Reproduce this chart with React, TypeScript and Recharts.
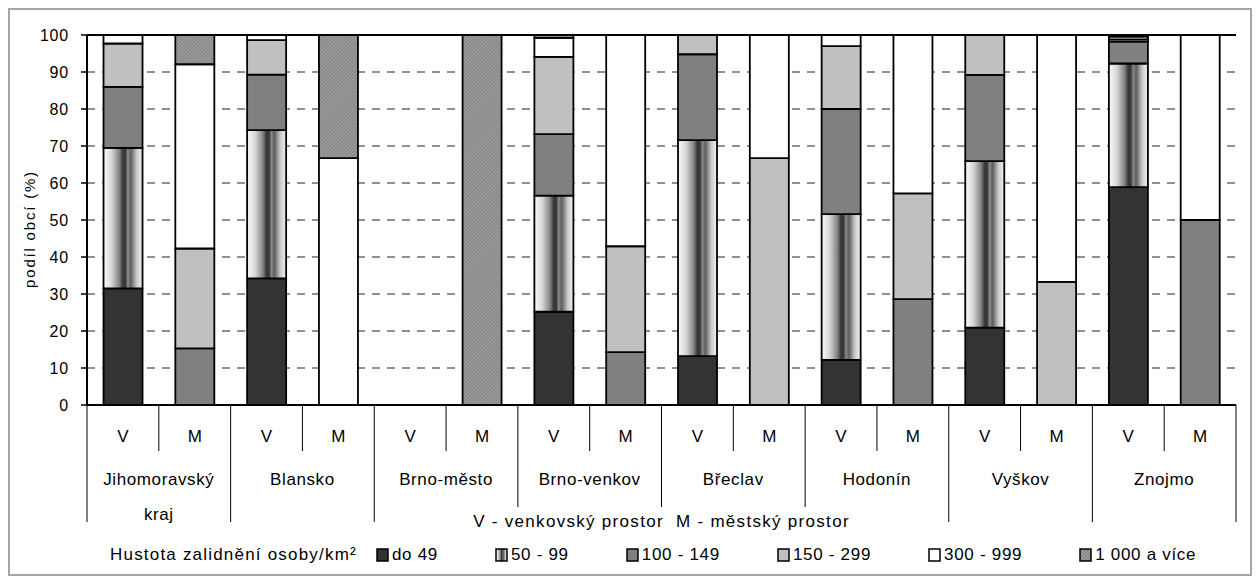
import { BarChart, Bar, XAxis, YAxis, CartesianGrid, ReferenceLine, Label } from 'recharts'

// okresy, each with rural (V) and urban (M) column
const groups = ['Jihomoravský kraj', 'Blansko', 'Brno-město', 'Brno-venkov', 'Břeclav', 'Hodonín', 'Vyškov', 'Znojmo']
const spaces = ['V', 'M']

// share of municipalities (%) by population density class, order: JMK V, JMK M, Blansko V, ...
const do49 = [31.5, 0, 34.2, 0, 0, 0, 25.2, 0, 13.2, 0, 12.2, 0, 20.9, 0, 58.9, 0]
const d50to99 = [38.0, 0, 40.1, 0, 0, 0, 31.4, 0, 58.4, 0, 39.4, 0, 45.0, 0, 33.4, 0]
const d100to149 = [16.5, 15.3, 15.0, 0, 0, 0, 16.6, 14.3, 23.2, 0, 28.4, 28.6, 23.3, 0, 5.9, 50]
const d150to299 = [11.7, 27.0, 9.3, 0, 0, 0, 20.9, 28.6, 5.2, 66.7, 17.0, 28.6, 10.8, 33.3, 0.6, 0]
const d300to999 = [2.3, 49.8, 1.4, 66.7, 0, 0, 5.1, 57.1, 0, 33.3, 3.0, 42.8, 0, 66.7, 0.8, 50]
const d1000plus = [0, 7.9, 0, 33.3, 0, 100, 0.8, 0, 0, 0, 0, 0, 0, 0, 0.4, 0]

const yTicks = [0, 10, 20, 30, 40, 50, 60, 70, 80, 90, 100]

const legendTitle = 'Hustota zalidnění osoby/km²'
const axisTitle = 'V - venkovský prostor  M - městský prostor'

const series = [
  { key: 'd49', name: 'do 49', values: do49, fill: '#333333' },
  { key: 'd50', name: '50 - 99', values: d50to99, fill: 'url(#grad5099)' },
  { key: 'd100', name: '100 - 149', values: d100to149, fill: '#808080' },
  { key: 'd150', name: '150 - 299', values: d150to299, fill: '#c0c0c0' },
  { key: 'd300', name: '300 - 999', values: d300to999, fill: '#ffffff' },
  { key: 'd1000', name: '1 000 a více', values: d1000plus, fill: 'url(#hatch1000)' },
]

const data = groups.flatMap((g, gi) =>
  spaces.map((s, si) => {
    const i = gi * 2 + si
    const row: Record<string, any> = { id: g + ' ' + s, group: g, space: s }
    series.forEach((se) => { row[se.key] = se.values[i] })
    return row
  })
)

const FONT = 'Liberation Sans, Arial, sans-serif'
const W = 1240
const H = 564
const margin = { top: 25, right: 14, left: 37, bottom: 29 }
const Y_W = 40
const X_H = 140
const PLOT_W = W - margin.left - margin.right - Y_W
const BAND = PLOT_W / data.length
const PLOT_CX = margin.left + Y_W + PLOT_W / 2

function CategoryTick(props: any) {
  const { x, y, payload } = props
  const i = payload.index
  const row = data[i]
  const right = x + BAND / 2
  const isM = i % 2 === 1
  let sepLen = 46
  if (isM) sepLen = Math.abs(right - PLOT_CX) < 200 ? 102 : 117
  const lines = row.group.length > 14
    ? [row.group.slice(0, row.group.lastIndexOf(' ')), row.group.slice(row.group.lastIndexOf(' ') + 1)]
    : [row.group]
  return (
    <g fontFamily={FONT} fontSize={17} fill="#000">
      <text x={x} y={y + 37} textAnchor="middle">{row.space}</text>
      <line x1={right} x2={right} y1={y} y2={y + sepLen} stroke="#000" strokeWidth={1} />
      {i === 0 && <line x1={x - BAND / 2} x2={x - BAND / 2} y1={y} y2={y + 117} stroke="#000" strokeWidth={1} />}
      {!isM && lines.map((ln, li) => (
        <text key={li} x={right} y={y + 80 + li * 35} textAnchor="middle" letterSpacing={0.6}>{ln}</text>
      ))}
    </g>
  )
}

function Swatch({ fill }: { fill: string }) {
  return (
    <svg width={14} height={15} style={{ display: 'block', marginRight: 2 }}>
      <rect x={1} y={1} width={11} height={12} fill={fill} stroke="#000" strokeWidth={1.5} />
    </svg>
  )
}

export default function App() {
  return (
    <div style={{ position: 'relative', width: W, height: H, border: '2px solid #a6a6a6', background: '#fff', fontFamily: FONT }}>
      <BarChart width={W} height={H} data={data} margin={margin} barCategoryGap="23%">
        <defs>
          <linearGradient id="grad5099" x1="0" y1="0" x2="1" y2="0">
            <stop offset="0%" stopColor="#fafafa" />
            <stop offset="20%" stopColor="#d8d8d8" />
            <stop offset="40%" stopColor="#858585" />
            <stop offset="50%" stopColor="#353535" />
            <stop offset="57%" stopColor="#3c3c3c" />
            <stop offset="62%" stopColor="#8a8a8a" />
            <stop offset="70%" stopColor="#5e5e5e" />
            <stop offset="85%" stopColor="#c8c8c8" />
            <stop offset="100%" stopColor="#f5f5f5" />
          </linearGradient>
          <pattern id="hatch1000" width="2.5" height="2.5" patternUnits="userSpaceOnUse" patternTransform="rotate(45)">
            <rect width="2.5" height="2.5" fill="#9c9c9c" />
            <line x1="0" y1="0" x2="0" y2="2.5" stroke="#6c6c6c" strokeWidth="1.1" />
          </pattern>
        </defs>
        <CartesianGrid vertical={false} stroke="#222" strokeDasharray="8 7" />
        <XAxis
          dataKey="id"
          height={X_H}
          interval={0}
          tickSize={0}
          tickMargin={0}
          tickLine={false}
          axisLine={{ stroke: '#000', strokeWidth: 2 }}
          tick={<CategoryTick />}
        >
          <Label
            content={(p: any) => {
              const vb = p.viewBox
              return (
                <text x={vb.x + vb.width / 2} y={vb.y + 122} textAnchor="middle" fontFamily={FONT} fontSize={17} letterSpacing={1.3} style={{ whiteSpace: 'pre' }} fill="#000">
                  {axisTitle}
                </text>
              )
            }}
          />
        </XAxis>
        <YAxis
          width={Y_W}
          domain={[0, 100]}
          ticks={yTicks}
          interval={0}
          tickSize={6}
          tickMargin={12}
          tickLine={{ stroke: '#000', strokeWidth: 1.5 }}
          axisLine={{ stroke: '#000', strokeWidth: 2 }}
          tick={{ fill: '#000', fontSize: 16, fontFamily: FONT, letterSpacing: 0.8 }}
        >
          <Label
            content={(p: any) => {
              const vb = p.viewBox
              const cx = vb.x - 18
              const cy = vb.y + vb.height / 2 + 9
              return (
                <text x={cx} y={cy} transform={`rotate(-90 ${cx} ${cy})`} textAnchor="middle" dominantBaseline="central" fontFamily={FONT} fontSize={15} letterSpacing={1.8} fill="#000">
                  podíl obcí (%)
                </text>
              )
            }}
          />
        </YAxis>
        <YAxis yAxisId="frame" orientation="right" width={0} domain={[0, 100]} tick={false} tickLine={false} axisLine={{ stroke: '#000', strokeWidth: 2 }} />
        {series.map((se) => (
          <Bar
            key={se.key}
            dataKey={se.key}
            name={se.name}
            stackId="a"
            fill={se.fill}
            stroke="#000"
            strokeWidth={1.8}
            isAnimationActive={false}
          />
        ))}
        <ReferenceLine y={100} stroke="#000" strokeWidth={2} />
      </BarChart>
      <div
        style={{
          position: 'absolute', left: 100, top: 535, height: 20, display: 'flex', alignItems: 'center',
          fontSize: 17, color: '#000', whiteSpace: 'nowrap',
        }}
      >
        <span style={{ marginRight: 19, letterSpacing: 1.2 }}>{legendTitle}</span>
        {series.map((se) => (
          <span key={se.key} style={{ display: 'flex', alignItems: 'center', marginRight: 57, letterSpacing: 0.7 }}>
            <Swatch fill={se.fill} />
            <span>{se.name}</span>
          </span>
        ))}
      </div>
    </div>
  )
}
